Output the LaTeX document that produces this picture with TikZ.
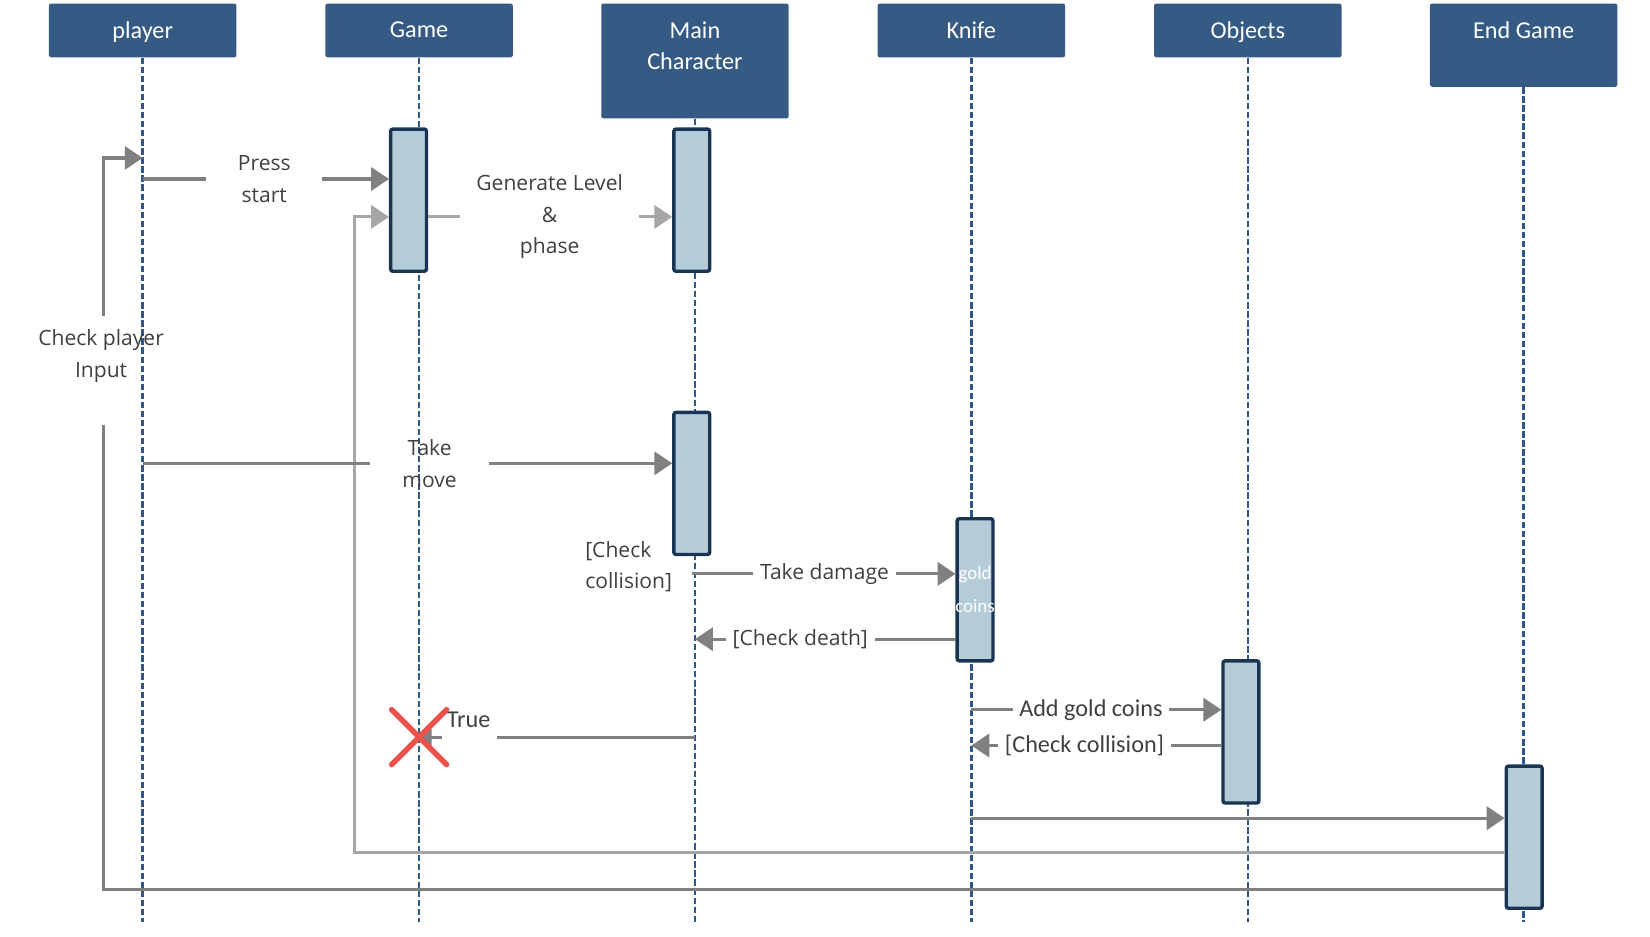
\documentclass[tikz,border=0pt]{standalone}
\usepackage{fontspec}
\setmainfont{Open Sans}
\newfontfamily\narrowfont{Carlito}
\usetikzlibrary{arrows.meta,shapes.misc}

\definecolor{headblue}{RGB}{53,90,131}
\definecolor{lifeblue}{RGB}{46,88,138}
\definecolor{barfill}{RGB}{180,204,216}
\definecolor{barline}{RGB}{26,52,84}
\definecolor{msggray}{RGB}{128,128,128}
\definecolor{loopgray}{RGB}{166,166,166}
\definecolor{txtgray}{RGB}{64,64,64}
\definecolor{crossred}{RGB}{236,82,74}

\begin{document}
\begin{tikzpicture}[x=0.5pt,y=-0.5pt,
    head/.style={fill=headblue, rounded corners=1pt, minimum width=89pt, minimum height=25.5pt, anchor=north, inner sep=0pt},
    headtxt/.style={anchor=north, yshift=-8.5pt, inner sep=0pt, text=white, align=center, font=\narrowfont\fontsize{11.5}{15}\selectfont},
    life/.style={draw=lifeblue, line width=1.2pt, dash pattern=on 3pt off 1.3pt},
    bar/.style={fill=barfill, draw=barline, line width=1.6pt, rounded corners=1pt, minimum width=17pt, minimum height=67.5pt, inner sep=0pt, anchor=north},
    bartxt/.style={text=white, align=center, inner sep=0pt, font=\narrowfont\fontsize{9}{15.5}\selectfont},
    msg/.style={draw=msggray, line width=1.5pt},
    loopmsg/.style={draw=loopgray, line width=1.5pt},
    tip/.style={-{Triangle[length=8.5pt,width=11pt]}},
    lbl/.style={text=txtgray, align=center, font=\fontsize{10}{15}\selectfont},
    nlbl/.style={text=txtgray, align=center, font=\narrowfont\fontsize{11.5}{15}\selectfont},
    destroy/.style={draw=crossred, cross out, line width=2.6pt, line cap=round, minimum size=23.5pt, inner sep=0pt}
  ]
  \useasboundingbox (0,0) rectangle (1567,889);

  % heads
  \node[head, label={[headtxt]north:player}] (player) at (135.5,3) {};
  \node[head, label={[headtxt]north:Game}] (game) at (398,3) {};
  \node[head, minimum height=54.5pt, label={[headtxt]north:Main\\Character}] (mainc) at (660,3) {};
  \node[head, label={[headtxt]north:Knife}] (knife) at (922.5,3) {};
  \node[head, label={[headtxt]north:Objects}] (objects) at (1185,3) {};
  \node[head, minimum height=39.5pt, label={[headtxt]north:End Game}] (endgame) at (1447,3) {};

  \coordinate (bottom) at (0,876);

  % lifelines
  \draw[life] (player.south) -- (player.south |- bottom);
  \draw[life] (game.south) -- (game.south |- bottom);
  \draw[life] (mainc.south) -- (mainc.south |- bottom);
  \draw[life] (knife.south) -- (knife.south |- bottom);
  \draw[life] (objects.south) -- (objects.south |- bottom);
  \draw[life] (endgame.south) -- (endgame.south |- bottom);

  % activations
  \node[bar] (gameBar) at (388,121) {};
  \node[bar] (mainBarA) at (657,121) {};
  \node[bar] (mainBarB) at (657,390) {};
  \node[bar] (knifeBar) at (926,491) {};
  \node[bar] (objBar) at (1178.5,626) {};
  \node[bar] (endBar) at (1447.5,726) {};

  \node[bartxt] (coinTxt) at (knifeBar) {gold\\coins};

  % press start
  \node[lbl, inner xsep=14.8pt] (lPress) at (251,170) {Press\\start};
  \draw[msg] (player.south |- lPress) -- (lPress);
  \draw[msg, tip] (lPress) -- (lPress -| gameBar.west);

  % generate level
  \node[lbl, inner xsep=7.5pt] (lGen) at (522,206) {Generate Level\\\&\\phase};
  \draw[loopmsg] (lGen -| gameBar.east) -- (lGen);
  \draw[loopmsg, tip] (lGen) -- (lGen -| mainBarA.west);

  % check player input
  \node[lbl] (lInput) at (96,338) {Check player\\Input};
  \coordinate (inTop) at (98,300);
  \coordinate (inBot) at (98,404);
  \coordinate (yInput) at (0,150);
  \coordinate (yBack) at (0,845);
  \draw[msg, tip] (inTop) |- (player.south |- yInput);
  \draw[msg] (endBar.west |- yBack) -- (inBot |- yBack) -- (inBot);

  % game loop
  \coordinate (loopCorner) at (337,810);
  \draw[loopmsg, tip] (endBar.west |- loopCorner) -- (loopCorner) |- (gameBar.west |- lGen);

  % take move
  \node[lbl, inner xsep=15pt] (lMove) at (408,440) {Take\\move};
  \draw[msg] (player.south |- lMove) -- (lMove);
  \draw[msg, tip] (lMove) -- (lMove -| mainBarB.west);

  % collision with knife
  \node[lbl, align=left] (lGuard) at (597,538) {[Check\\collision]};
  \node[lbl, inner xsep=3pt] (lDamage) at (783,545) {Take damage};
  \draw[msg] (mainBarB.south |- lDamage) -- (lDamage);
  \draw[msg, tip] (lDamage) -- (lDamage -| knifeBar.west);

  \node[lbl, inner xsep=3pt] (lDeath) at (760,607) {[Check death]};
  \draw[msg] (knifeBar.west |- lDeath) -- (lDeath);
  \draw[msg, tip] (lDeath) -- (lDeath -| mainc.south);

  % objects
  \node[nlbl, inner xsep=3pt] (lCoins) at (1036,674) {Add gold coins};
  \draw[msg] (knife.south |- lCoins) -- (lCoins);
  \draw[msg, tip] (lCoins) -- (lCoins -| objBar.west);

  \node[nlbl, inner xsep=3pt] (lColl) at (1030,708) {[Check collision]};
  \draw[msg] (objBar.west |- lColl) -- (lColl);
  \draw[msg, tip] (lColl) -- (lColl -| knife.south);

  % end game
  \coordinate (yEnd) at (0,777);
  \draw[msg, tip] (knife.south |- yEnd) -- (endBar.west |- yEnd);

  % true
  \node[nlbl, inner sep=0pt] (lTrue) at (445,684) {True};
  \coordinate (trueCut) at (472,700);
  \coordinate (trueStub) at (420,700);
  \draw[msg] (mainc.south |- trueCut) -- (trueCut);
  \draw[msg, -{Triangle[length=6pt,width=8pt]}] (trueStub) -- (game.south |- trueCut);
  \node[destroy] (gameEnd) at (game.south |- trueCut) {};
\end{tikzpicture}
\end{document}
